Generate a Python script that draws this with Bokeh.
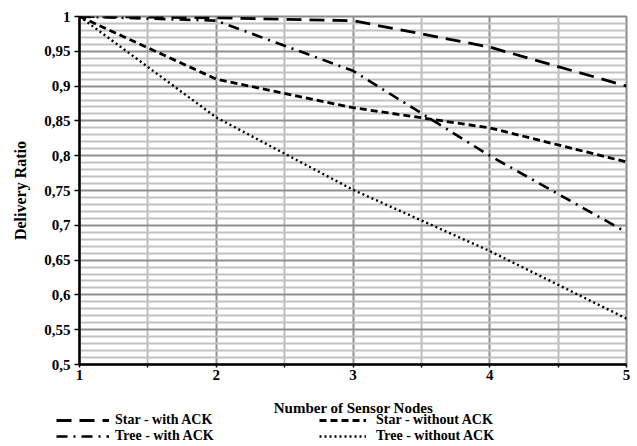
from bokeh.plotting import figure
from bokeh.layouts import column
from bokeh.models import (FixedTicker, CustomJSTickFormatter, Legend, LegendItem,
                          Range1d, Label)
from bokeh.embed import file_html
from bokeh.resources import INLINE

nodes = [1, 2, 3, 4, 5]
star_ack = [1.0, 0.998, 0.994, 0.956, 0.900]
star_noack = [1.0, 0.910, 0.869, 0.840, 0.791]
tree_ack = [1.0, 0.994, 0.922, 0.800, 0.690]
tree_noack = [1.0, 0.855, 0.751, 0.663, 0.566]

x_ticks = [1, 2, 3, 4, 5]
x_minor = [1.5, 2.5, 3.5, 4.5]
y_ticks = [0.5, 0.55, 0.6, 0.65, 0.7, 0.75, 0.8, 0.85, 0.9, 0.95, 1.0]
y_minor = [round(0.5 + 0.01 * i, 2) for i in range(51) if i % 5 != 0]

labels = ["Star - with ACK", "Star - without ACK", "Tree - with ACK", "Tree - without ACK"]
x_title = "Number of Sensor Nodes"
y_title = "Delivery Ratio"

FONT = "Liberation Serif"
W = 634

p = figure(width=W, height=386, output_backend="svg", toolbar_location=None,
           x_range=(1, 5), y_range=(0.5, 1.0),
           min_border_left=79, min_border_right=8, min_border_top=16, min_border_bottom=22)
p.frame_align = False

p.outline_line_color = "#8a8a8a"
p.outline_line_width = 2
p.background_fill_color = "white"
p.border_fill_color = "white"

# grids
p.xgrid.ticker = FixedTicker(ticks=x_ticks, minor_ticks=x_minor)
p.ygrid.ticker = FixedTicker(ticks=y_ticks, minor_ticks=y_minor)
p.xgrid.grid_line_color = "#8f8f8f"
p.xgrid.grid_line_width = 2
p.xgrid.minor_grid_line_color = "#bdbdbd"
p.xgrid.minor_grid_line_width = 2
p.ygrid.grid_line_color = "#8f8f8f"
p.ygrid.grid_line_width = 2
p.ygrid.minor_grid_line_color = "#c2c2c2"
p.ygrid.minor_grid_line_width = 2

# axes
fmt = CustomJSTickFormatter(code="return (Math.round(tick*100)/100).toString().replace('.', ',');")
p.xaxis.ticker = FixedTicker(ticks=x_ticks, minor_ticks=x_minor)
p.yaxis.ticker = FixedTicker(ticks=y_ticks, minor_ticks=[])
p.yaxis.formatter = fmt
for ax in (p.xaxis[0], p.yaxis[0]):
    ax.axis_line_color = "black"
    ax.axis_line_width = 2.5
    ax.major_tick_line_color = "black"
    ax.major_tick_line_width = 1.5
    ax.minor_tick_line_color = "black"
    ax.minor_tick_line_width = 1.5
    ax.major_label_text_font = FONT
    ax.major_label_text_font_style = "bold"
    ax.major_label_text_font_size = "15px"
    ax.major_label_text_color = "black"
    ax.axis_label_text_font = FONT
    ax.axis_label_text_font_style = "bold"
    ax.axis_label_text_color = "black"

p.xaxis.major_tick_out = 3
p.xaxis.major_tick_in = 0
p.xaxis.minor_tick_out = 3
p.xaxis.minor_tick_in = 0
p.xaxis.major_label_standoff = 2

p.yaxis.axis_label = y_title
p.yaxis.axis_label_text_font_size = "16px"
p.yaxis.major_tick_out = 5
p.yaxis.major_tick_in = 0
p.yaxis.minor_tick_out = 0
p.yaxis.minor_tick_in = 0
p.yaxis.major_label_standoff = 4
p.yaxis.axis_label_standoff = 12

styles = [
    dict(line_color="black", line_width=2.8, line_dash="15 8"),
    dict(line_color="black", line_width=2.8, line_dash="7 4"),
    dict(line_color="black", line_width=2.6, line_dash="11 6 2 6"),
    dict(line_color="black", line_width=2.4, line_dash="2 3"),
]
series = [star_ack, star_noack, tree_ack, tree_noack]

for ys, st in zip(series, styles):
    p.line(nodes, ys, **st)

# strip below the chart: x-axis title and legend
# (series drawn again outside its visible range so that only the legend glyphs show)
q = figure(width=W, height=58, output_backend="svg", toolbar_location=None,
           x_range=Range1d(100, 200), y_range=Range1d(100, 200),
           min_border_left=0, min_border_right=0, min_border_top=0, min_border_bottom=0)
q.frame_align = False
q.xaxis.visible = False
q.yaxis.visible = False
q.xgrid.visible = False
q.ygrid.visible = False
q.outline_line_color = None
rs = [q.line(nodes, ys, **st) for ys, st in zip(series, styles)]

q.add_layout(Label(x=353, y=37, x_units="screen", y_units="screen", text=x_title,
                   text_align="center", text_baseline="middle",
                   text_font=FONT, text_font_style="bold", text_font_size="15px",
                   text_color="black"))

def make_legend(idx, loc, gw, standoff):
    return Legend(items=[LegendItem(label=labels[i], renderers=[rs[i]]) for i in idx],
                  location=loc, orientation="vertical",
                  glyph_width=gw, glyph_height=12, label_height=14,
                  label_standoff=standoff, spacing=-2, padding=0, margin=0,
                  border_line_color=None, background_fill_alpha=0,
                  label_text_font=FONT, label_text_font_style="bold",
                  label_text_font_size="14px", label_text_color="black")

q.add_layout(make_legend([0, 2], (56, 0), 53, 6), "center")
q.add_layout(make_legend([1, 3], (319, 0), 47, 10), "center")

layout = column(p, q, spacing=0)
open("out.html", "w").write(file_html(layout, INLINE))
